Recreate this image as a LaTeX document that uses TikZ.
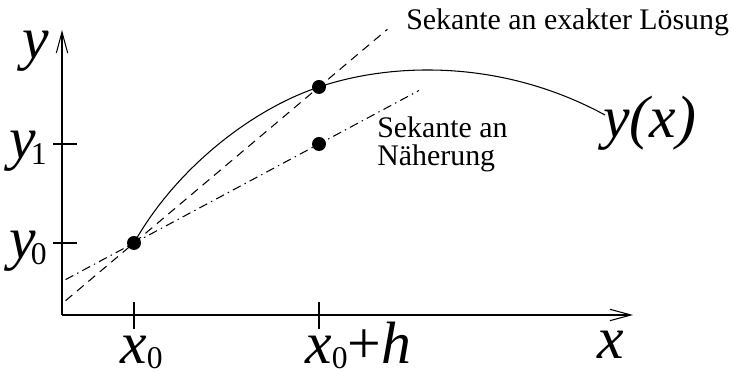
\documentclass[tikz,border=0pt]{standalone}
\usepackage{fontspec}
\setmainfont{Liberation Serif}
\usetikzlibrary{arrows.meta,calc}

\newcommand{\idx}[1]{\raisebox{-3pt}{\upshape\fontsize{18}{18}\selectfont #1}}

\begin{document}
\begin{tikzpicture}[
    axis/.style={line width=1.2pt,-{Straight Barb[length=12pt,width=6.5pt,line width=0.6pt]}},
    exakt/.style={line width=0.6pt,dash pattern=on 5pt off 3.5pt},
    naeh/.style={line width=0.6pt,dash pattern=on 5pt off 2.5pt on 0.8pt off 2.5pt},
    tickline/.style={line width=0.6pt},
    big/.style={font=\fontsize{34}{34}\selectfont\itshape,inner sep=0pt},
    txt/.style={font=\fontsize{17}{16}\selectfont,inner sep=0pt,align=left}
]
            \useasboundingbox (-1.24,-1.16) rectangle (13.42,6.3);

            \coordinate (O) at (0,0);
            \coordinate (Y) at (0,5.7);
            \coordinate (X) at (11.42,0);
            \coordinate (P0) at (1.44,1.44);
            \coordinate (P1) at (5.14,4.56);
            \coordinate (P2) at (5.14,3.42);
            \coordinate (E) at (10.86,4.0);

            % Kurve y(x)
            \draw[line width=0.6pt] (P0) .. controls (2.26,2.9) and (3.76,4.1) .. (P1)
                .. controls (6.56,5.04) and (8.76,5.14) .. (E);

            % Sekanten
            \draw[exakt] ($(P0)!-0.37!(P1)$) -- ($(P0)!1.37!(P1)$);
            \draw[naeh] ($(P0)!-0.37!(P2)$) -- ($(P0)!1.54!(P2)$);

            % Achsen
            \draw[axis] (O) -- (Y);
            \draw[axis] (O) -- (X);

            \draw[tickline] (1.44,0.26) -- (1.44,-0.28);
            \draw[tickline] (5.14,0.26) -- (5.14,-0.28);
            \draw[tickline] (-0.18,1.44) -- (0.3,1.44);
            \draw[tickline] (-0.18,3.42) -- (0.3,3.42);

            \fill (P0) circle (0.14);
            \fill (P1) circle (0.14);
            \fill (P2) circle (0.14);

            \node[big] at (-0.52,5.28) {y};
            \node[big] at (10.98,-0.6) {x};
            \node[big,anchor=base west] at (1.16,-0.97) {x\idx{0}};
            \node[big,anchor=base west] at (4.86,-0.97) {x\idx{0}\upshape+\itshape h};
            \node[big,anchor=base east] at (-0.3,1.12) {y\kern-3pt\idx{0}};
            \node[big,anchor=base east] at (-0.3,3.12) {y\kern-3pt\idx{1}};
            \node[big,anchor=base west] at (10.82,3.54) {y(x)};

            \node[txt,anchor=base west] at (6.88,5.7) {Sekante an exakter Lösung};
            \node[txt,anchor=north west] at (6.3,3.97) {Sekante an\\Näherung};
        \end{tikzpicture}
\end{document}
